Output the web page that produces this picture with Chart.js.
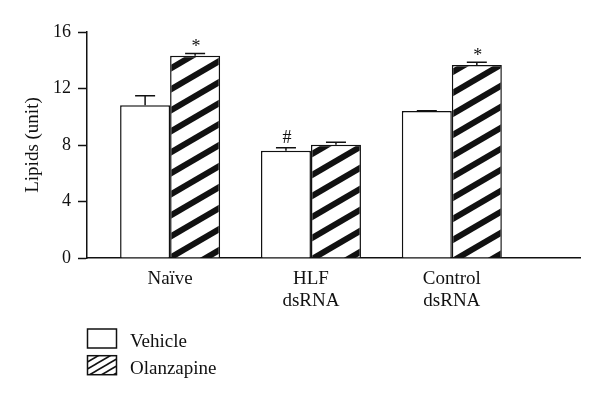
<!DOCTYPE html>
<html>
<head>
<meta charset="utf-8">
<script src="https://cdn.jsdelivr.net/npm/chart.js@4"></script>
<style>
  html, body { margin: 0; padding: 0; background: #fff; }
  #wrap { width: 600px; height: 401px; }
</style>
</head>
<body>
<div id="wrap"><canvas id="c" width="600" height="401"></canvas></div>
<script>
// ---- data ----
const categories = ['Naïve', ['HLF', 'dsRNA'], ['Control', 'dsRNA']];
const seriesLabels = ['Vehicle', 'Olanzapine'];
const vehicle = [10.82, 7.60, 10.40];
const olanzapine = [14.31, 8.02, 13.67];
const vehicleErr = [0.66, 0.21, 0.03];
const olanzapineErr = [0.16, 0.17, 0.19];
const vehicleSig = ['', '#', ''];
const olanzapineSig = ['*', '', '*'];
const yTicks = [0, 4, 8, 12, 16];

// ---- styles ----
const FONT = "'Liberation Serif', 'Times New Roman', serif";
const INK = '#111';

function makeStripe(w, h, lw) {
  const c = document.createElement('canvas');
  c.width = w; c.height = h;
  const g = c.getContext('2d');
  g.fillStyle = '#fff';
  g.fillRect(0, 0, w, h);
  g.strokeStyle = INK;
  g.lineWidth = lw;
  for (const dy of [-h, 0, h]) {
    g.beginPath();
    g.moveTo(-w, h + dy + h);
    g.lineTo(2 * w, h + dy - 2 * h);
    g.stroke();
  }
  return g.createPattern(c, 'repeat');
}
const barStripe = makeStripe(36, 21, 6);
const legendStripe = makeStripe(12, 7, 1.6);

const seriesValues = [vehicle, olanzapine];
const seriesErr = [vehicleErr, olanzapineErr];
const seriesSig = [vehicleSig, olanzapineSig];
const fills = ['#fff', barStripe];
const legendFills = ['#fff', legendStripe];

const errorPlugin = {
  id: 'errs',
  afterDatasetsDraw(chart) {
    const ctx = chart.ctx;
    const ys = chart.scales.y;
    ctx.save();
    ctx.strokeStyle = INK;
    ctx.lineWidth = 1.5;
    chart.data.datasets.forEach((ds, di) => {
      const meta = chart.getDatasetMeta(di);
      meta.data.forEach((bar, i) => {
        const v = seriesValues[di][i];
        const e = seriesErr[di][i];
        const y0 = ys.getPixelForValue(v);
        const y1 = ys.getPixelForValue(v + e);
        ctx.beginPath();
        ctx.moveTo(bar.x, y0);
        ctx.lineTo(bar.x, y1);
        ctx.moveTo(bar.x - 10, y1);
        ctx.lineTo(bar.x + 10, y1);
        ctx.stroke();
        const s = seriesSig[di][i];
        if (s) {
          ctx.font = '18px ' + FONT;
          ctx.fillStyle = INK;
          ctx.textAlign = 'center';
          ctx.textBaseline = 'alphabetic';
          const m = ctx.measureText(s);
          const cy = y1 - 11;
          const base = cy + (m.actualBoundingBoxAscent - m.actualBoundingBoxDescent) / 2;
          ctx.fillText(s, bar.x + 1, base);
        }
      });
    });
    ctx.restore();
  }
};

const legendPlugin = {
  id: 'customLegend',
  afterDraw(chart) {
    const ctx = chart.ctx;
    ctx.save();
    chart.data.datasets.forEach((ds, di) => {
      const bx = 87.5, by = 329 + di * 26.7, bw = 29, bh = 19;
      ctx.fillStyle = legendFills[di];
      ctx.fillRect(bx, by, bw, bh);
      ctx.strokeStyle = INK;
      ctx.lineWidth = 1.5;
      ctx.strokeRect(bx, by, bw, bh);
      ctx.fillStyle = INK;
      ctx.font = '19px ' + FONT;
      ctx.textAlign = 'left';
      ctx.textBaseline = 'alphabetic';
      ctx.fillText(ds.label, 130, by + 18);
    });
    ctx.restore();
  }
};

const datasets = seriesLabels.map((lab, di) => ({
  label: lab,
  data: seriesValues[di].map((v, i) => ({ x: i + 1, y: v })),
  backgroundColor: fills[di],
  borderColor: INK,
  borderWidth: 1.5,
  categoryPercentage: 0.71,
  barPercentage: 1.0
}));

new Chart(document.getElementById('c'), {
  type: 'bar',
  data: { datasets },
  plugins: [errorPlugin, legendPlugin],
  options: {
    responsive: false,
    animation: false,
    devicePixelRatio: 1,
    layout: { padding: { top: 32, right: 20, bottom: 0, left: 0 } },
    plugins: { legend: { display: false }, tooltip: { enabled: false } },
    scales: {
      x: {
        type: 'linear',
        offset: false,
        bounds: 'data',
        min: 0.41,
        max: 3.91,
        grid: { display: false, offset: false },
        border: { display: true, color: INK, width: 1.5 },
        afterBuildTicks: s => { s.ticks = categories.map((c, i) => ({ value: i + 1 })); },
        ticks: {
          autoSkip: false,
          maxRotation: 0,
          color: INK,
          padding: 2,
          font: { family: FONT, size: 19, lineHeight: 22 / 19 },
          callback: (v) => categories[Math.round(v) - 1]
        },
        afterFit: s => { s.height = 143; }
      },
      y: {
        min: 0,
        max: 16,
        afterBuildTicks: s => { s.ticks = yTicks.map(v => ({ value: v })); },
        grid: { display: true, drawOnChartArea: false, drawTicks: true, tickLength: 9, tickWidth: 1.5, tickColor: INK },
        border: { display: true, color: INK, width: 1.5 },
        ticks: { color: INK, padding: 7, font: { family: FONT, size: 18 } },
        title: { display: true, text: 'Lipids (unit)', color: INK, font: { family: FONT, size: 19 }, padding: { top: 22, bottom: 0 } },
        afterFit: s => { s.width = 87; }
      }
    }
  }
});
</script>
</body>
</html>
